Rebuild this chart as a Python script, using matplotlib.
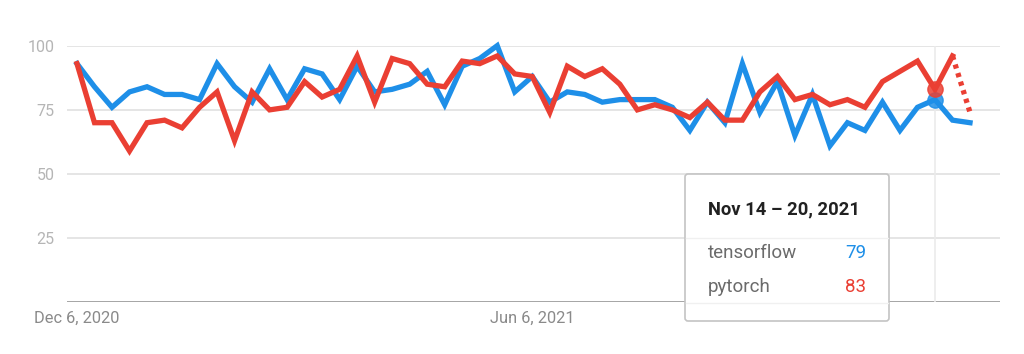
import matplotlib
matplotlib.use("Agg")
import matplotlib.pyplot as plt
from matplotlib.patches import FancyBboxPatch
import pandas as pd

plt.rcParams['font.family'] = ['Roboto', 'DejaVu Sans']

# weekly interest, Google Trends style
weeks = pd.date_range("2020-12-06", periods=52, freq="7D")
tensorflow = [93, 84, 76, 82, 84, 81, 81, 79, 93, 84, 78, 91, 79, 91, 89, 79,
              92, 82, 83, 85, 90, 77, 92, 95, 100, 82, 88, 78, 82, 81, 78, 79,
              79, 79, 76, 67, 78, 70, 93, 74, 86, 65, 81, 61, 70, 67, 78, 67,
              76, 79, 71, 70]
pytorch = [93, 70, 70, 59, 70, 71, 68, 76, 82, 63, 82, 75, 76, 86, 80, 83,
           96, 78, 95, 93, 85, 84, 94, 93, 96, 89, 88, 74, 92, 88, 91, 85,
           75, 77, 75, 72, 78, 71, 71, 82, 88, 79, 81, 77, 79, 76, 86, 90,
           94, 83, 96, 74]
yticks = [25, 50, 75, 100]
xtick_dates = ["2020-12-06", "2021-06-06"]
xtick_labels = ["Dec 6, 2020", "Jun 6, 2021"]
hover = 49  # Nov 14 - 20, 2021

blue = "#1E8FE8"
red = "#EA3F33"

fig = plt.figure(figsize=(10.24, 3.54), dpi=100)
ax = fig.add_axes([0.0654, 0.1455, 0.9112, 0.7255])

# grid lines
for v in yticks:
    ax.axhline(v, color="#e0e0e0", lw=1.2, zorder=0)
ax.axhline(0, color="#9e9e9e", lw=1.3, zorder=1)

# vertical hover line
ax.axvline(weeks[hover], color="#ebebeb", lw=1.2, zorder=1)

# solid part, last week is partial -> dotted red
ax.plot(weeks, tensorflow, color=blue, lw=3.8, solid_joinstyle="miter",
        zorder=3, clip_on=False)
ax.plot(weeks[:-1], pytorch[:-1], color=red, lw=3.8, solid_joinstyle="miter",
        zorder=4, clip_on=False)
ax.plot(weeks[-2:], pytorch[-2:], color=red, lw=3.8, ls=(0, (0.8, 0.9)),
        zorder=4, clip_on=False)

ax.plot(weeks[hover], tensorflow[hover], "o", color=blue, ms=11, alpha=0.85,
        zorder=5)
ax.plot(weeks[hover], pytorch[hover], "o", color=red, ms=11, alpha=0.85,
        zorder=6)

ax.set_xlim(weeks[0] - pd.Timedelta(days=4), weeks[-1] + pd.Timedelta(days=12))
ax.set_ylim(0, 100)
for s in ax.spines.values():
    s.set_visible(False)

ax.set_yticks(yticks)
ax.set_yticklabels([str(v) for v in yticks])
ax.set_xticks(pd.to_datetime(xtick_dates))
ax.set_xticklabels(xtick_labels)
ax.tick_params(axis="y", length=0, pad=9, labelsize=11.5, labelcolor="#b5b5b5")
ax.tick_params(axis="x", length=0, pad=6, labelsize=11.8, labelcolor="#8a8a8a")

# tooltip box
box = FancyBboxPatch((685, 33), 204, 147, boxstyle="round,pad=0,rounding_size=3",
                     transform=None, facecolor="white", edgecolor="#c4c4c4",
                     lw=1.2, zorder=10)
fig.patches.append(box)
fig.add_artist(plt.Line2D([686, 888], [116, 116], transform=None,
                          color="#f0f0f0", lw=1, zorder=11))
fig.add_artist(plt.Line2D([686, 888], [51, 51], transform=None,
                          color="#f0f0f0", lw=1, zorder=11))
fig.text(708 / 1024, 1 - 209 / 354, "Nov 14 \u2013 20, 2021", fontsize=13.2,
         fontweight="bold", color="#212121", va="center", ha="left", zorder=12)
fig.text(708 / 1024, 1 - 253 / 354, "tensorflow", fontsize=13.5,
         color="#6b6b6b", va="center", ha="left", zorder=12)
fig.text(866 / 1024, 1 - 253 / 354, str(tensorflow[hover]), fontsize=13.5,
         color=blue, va="center", ha="right", zorder=12)
fig.text(708 / 1024, 1 - 287 / 354, "pytorch", fontsize=13.5,
         color="#6b6b6b", va="center", ha="left", zorder=12)
fig.text(866 / 1024, 1 - 287 / 354, str(pytorch[hover]), fontsize=13.5,
         color=red, va="center", ha="right", zorder=12)

fig.savefig("out.png", dpi=100)
